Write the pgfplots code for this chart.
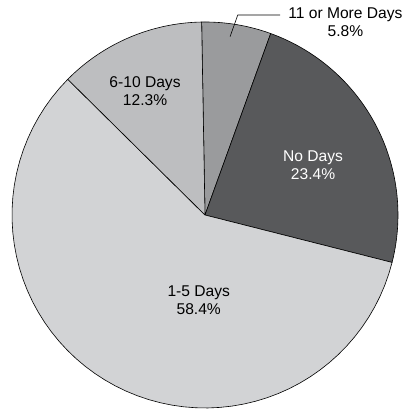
\documentclass[border=0pt]{standalone}
\usepackage{pgfplots}
\pgfplotsset{compat=1.18}
\usepgfplotslibrary{polar}
\usepackage{fontspec}
\setmainfont{Liberation Sans}

\definecolor{sliceFew}{RGB}{210,211,213}
\definecolor{sliceSome}{RGB}{189,190,192}
\definecolor{sliceMore}{RGB}{154,155,157}
\definecolor{sliceNone}{RGB}{88,89,91}

% shares in percent, clockwise from the top
\def\pMore{5.8}
\def\pNone{23.4}
\def\pFew{58.4}
\def\pSome{12.3}
\pgfmathsetmacro{\total}{\pMore+\pNone+\pFew+\pSome}
\pgfmathsetmacro{\aStart}{91}
\pgfmathsetmacro{\aA}{\aStart-\pMore/\total*360}
\pgfmathsetmacro{\aB}{\aA-\pNone/\total*360}
\pgfmathsetmacro{\aC}{\aB-\pFew/\total*360}
\pgfmathsetmacro{\aD}{\aStart-360}

\begin{document}
\begin{tikzpicture}[font=\fontsize{15.6}{18.3}\selectfont]
\begin{polaraxis}[
    hide axis,
    scale only axis,
    width=386pt, height=386pt,
    ymin=0, ymax=1,
    clip=false,
    every axis plot/.append style={draw=black, line width=0.6pt, samples=60, line join=round},
  ]
  \addplot[fill=sliceMore, domain=\aA:\aStart] {1} -- (axis cs:0,0) -- cycle;
  \addplot[fill=sliceNone, domain=\aB:\aA] {1} -- (axis cs:0,0) -- cycle;
  \addplot[fill=sliceFew, domain=\aC:\aB] {1} -- (axis cs:0,0) -- cycle;
  \addplot[fill=sliceSome, domain=\aD:\aC] {1} -- (axis cs:0,0) -- cycle;

  \node[align=center, text=white] at (axis cs:24.8,0.617) {No Days\\23.4\%};
  \node[align=center] at (axis cs:-94.2,0.442) {1-5 Days\\58.4\%};
  \node[align=center] at (axis cs:115.8,0.714) {6-10 Days\\12.3\%};
  \node[align=center] at (axis cs:53.9,1.235) {11 or More Days\\5.8\%};
  \draw[line width=0.6pt] (axis cs:82.0,0.933) -- (axis cs:80.7,1.050) -- (axis cs:69.4,1.107);

  \coordinate (pc) at (axis cs:0,0);
\end{polaraxis}
\pgfresetboundingbox
\path (pc) ++(-205pt,215pt) rectangle ++(407pt,-411pt);
\end{tikzpicture}
\end{document}
